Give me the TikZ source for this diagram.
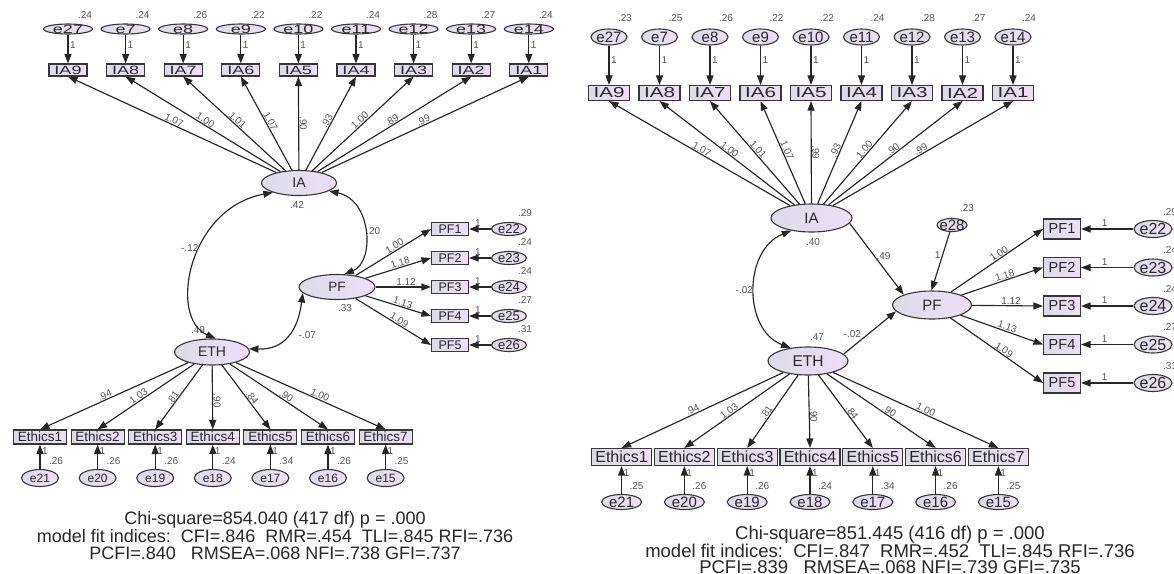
\documentclass[tikz,border=0pt]{standalone}
\usepackage{fontspec}
\setmainfont{Liberation Sans}
\newfontfamily\stretchA[FakeStretch=1.5]{Liberation Sans}
\newfontfamily\stretchB[FakeStretch=1.42]{Liberation Sans}
\usetikzlibrary{shapes.geometric,arrows.meta}
\definecolor{fillL}{RGB}{220,220,232}
\definecolor{fillR}{RGB}{238,222,246}
\definecolor{edgec}{RGB}{55,55,55}
\definecolor{lblc}{RGB}{85,85,85}
\definecolor{txtc}{RGB}{40,40,40}
\newcommand{\fs}[1]{\fontsize{#1}{#1}\selectfont}
\begin{document}
\begin{tikzpicture}[x=1pt,y=-1pt,
  base/.style={draw=edgec, line width=1.1pt, left color=fillL, right color=fillR, text=txtc},
  oval/.style={base, ellipse, inner sep=-12pt},
  box/.style={base, rectangle, inner sep=0pt},
  lbl/.style={text=lblc, inner sep=0.5pt, font=\fs{10}},
  arr/.style={draw=black!85, line width=1.15pt, -{Triangle[length=9.5pt,width=7pt]}},
  dbl/.style={draw=black!85, line width=1.15pt, {Triangle[length=9.5pt,width=7pt]}-{Triangle[length=9.5pt,width=7pt]}},
  fit/.style={text=txtc, align=center, inner sep=0pt}
]
\fill[white] (0,0) rectangle (1174,573);
\useasboundingbox (0,0) rectangle (1174,573);

%%%%%%%%%%%%%%%% LEFT MODEL %%%%%%%%%%%%%%%%
\node[oval, minimum width=75pt, minimum height=25pt, font=\fs{14}] (aIA) at (299,183) {IA};
\node[oval, minimum width=76pt, minimum height=25pt, font=\fs{13.5}] (aPF) at (337,287) {PF};
\node[oval, minimum width=75pt, minimum height=26pt, font=\fs{14}] (aETH) at (212,352) {ETH};
\node[lbl] (aIA-v) at (297,205) {.42};
\node[lbl] (aPF-v) at (345,308) {.33};
\node[lbl] (aETH-v) at (198,330) {.49};

\foreach \e/\b/\v/\l [count=\i from 0] in {e27/IA9/.24/1.07, e7/IA8/.24/1.00, e8/IA7/.26/1.01, e9/IA6/.22/1.07, e10/IA5/.22/.90, e11/IA4/.24/.93, e12/IA3/.28/1.00, e13/IA2/.27/.89, e14/IA1/.24/.99}{
  \pgfmathsetmacro{\xx}{68+57.6*\i}
  \node[oval, minimum width=49pt, minimum height=10pt, font=\stretchA\fs{12}] (a\e) at (\xx,29) {\e};
  \node[lbl] (a\e-v) at (\xx+17,15) {\v};
  \node[box, minimum width=38pt, minimum height=12pt, font=\stretchA\fs{12}] (a\b) at (\xx,70) {\b};
  \draw[arr] (a\e) -- (a\b) node[lbl, pos=0.35, right=1pt] (a\e-1) {1};
  \draw[arr] (aIA) -- (a\b.south) node[lbl, sloped, pos=0.5, above] (aIA-\b) {\l};
}

\foreach \b/\e/\v/\l [count=\i from 0] in {PF1/e22/.29/1.00, PF2/e23/.24/1.18, PF3/e24/.24/1.12, PF4/e25/.27/1.13, PF5/e26/.31/1.09}{
  \pgfmathsetmacro{\yy}{229+29*\i}
  \node[box, minimum width=37pt, minimum height=13pt, font=\fs{12.5}] (a\b) at (450,\yy) {\b};
  \node[oval, minimum width=35pt, minimum height=13pt, font=\fs{13}] (a\e) at (509,\yy) {\e};
  \node[lbl] (a\e-v) at (525,\yy-16) {\v};
  \draw[arr] (a\e) -- (a\b) node[lbl, pos=0.6, above=1pt] (a\e-1) {1};
  \draw[arr] (aPF) -- (a\b.west) node[lbl, sloped, pos=0.55, above] (aPF-\b) {\l};
}

\foreach \b/\e/\v/\l [count=\i from 0] in {Ethics1/e21/.26/.94, Ethics2/e20/.26/1.03, Ethics3/e19/.26/.81, Ethics4/e18/.24/.90, Ethics5/e17/.34/.84, Ethics6/e16/.26/.90, Ethics7/e15/.25/1.00}{
  \pgfmathsetmacro{\xx}{40+57.6*\i}
  \node[box, minimum width=53pt, minimum height=14pt, font=\fs{13.5}] (a\b) at (\xx,437) {\b};
  \node[oval, minimum width=37pt, minimum height=17pt, font=\fs{12}] (a\e) at (\xx,478) {\e};
  \node[lbl] (a\e-v) at (\xx+16,461) {\v};
  \draw[arr] (a\e) -- (a\b) node[lbl, pos=0.75, right=1pt] (a\e-1) {1};
  \draw[arr] (aETH) -- (a\b.north) node[lbl, sloped, pos=0.55, above] (aETH-\b) {\l};
}

\draw[dbl] (aIA.200) .. controls (188,208) and (168,318) .. (aETH.75) node[lbl, pos=0.42, left=1pt] (acov1) {-.12};
\draw[dbl] (aIA.-15) .. controls (372,200) and (375,262) .. (aPF.60) node[lbl, pos=0.5, right=1pt] (acov2) {.20};
\draw[dbl] (aPF.190) .. controls (298,330) and (285,350) .. (aETH.5) node[lbl, pos=0.5, right=10pt] (acov3) {-.07};

\node[fit, font=\fontsize{18}{17.5}\selectfont] (afit) at (275,536) {Chi-square=854.040 (417 df) p = .000\\model fit indices:\ \ CFI=.846\ \ RMR=.454\ \ TLI=.845 RFI=.736\\PCFI=.840\ \ \ RMSEA=.068 NFI=.738 GFI=.737};

%%%%%%%%%%%%%%%% RIGHT MODEL %%%%%%%%%%%%%%%%
\node[oval, minimum width=81pt, minimum height=28pt, font=\fs{15}] (bIA) at (811.5,218) {IA};
\node[oval, minimum width=79pt, minimum height=28pt, font=\fs{15}] (bPF) at (932,305) {PF};
\node[oval, minimum width=80pt, minimum height=28pt, font=\fs{15.5}] (bETH) at (808,361) {ETH};
\node[lbl] (bIA-v) at (813,242) {.40};
\node[lbl] (bETH-v) at (817,337) {.47};
\node[oval, minimum width=30pt, minimum height=13pt, font=\fs{15}] (be28) at (952,225) {e28};
\node[lbl] (be28-v) at (967,208) {.23};

\foreach \e/\b/\v/\l [count=\i from 0] in {e27/IA9/.23/1.07, e7/IA8/.25/1.00, e8/IA7/.26/1.01, e9/IA6/.22/1.07, e10/IA5/.22/.99, e11/IA4/.24/.93, e12/IA3/.28/1.00, e13/IA2/.27/.90, e14/IA1/.24/.99}{
  \pgfmathsetmacro{\xx}{609+50.5*\i}
  \node[oval, minimum width=36pt, minimum height=16pt, font=\fs{15}] (b\e) at (\xx,37) {\e};
  \node[lbl] (b\e-v) at (\xx+16,18) {\v};
  \node[box, minimum width=41pt, minimum height=15pt, font=\stretchB\fs{14.5}] (b\b) at (\xx,93) {\b};
  \draw[arr] (b\e) -- (b\b) node[lbl, pos=0.37, right=1pt] (b\e-1) {1};
  \draw[arr] (bIA) -- (b\b.south) node[lbl, sloped, pos=0.5, above] (bIA-\b) {\l};
}

\foreach \b/\e/\v/\l [count=\i from 0] in {PF1/e22/.29/1.00, PF2/e23/.24/1.18, PF3/e24/.24/1.12, PF4/e25/.27/1.13, PF5/e26/.31/1.09}{
  \pgfmathsetmacro{\yy}{229+38.5*\i}
  \node[box, minimum width=37pt, minimum height=20pt, font=\fs{14.5}] (b\b) at (1062,\yy) {\b};
  \node[oval, minimum width=38pt, minimum height=17pt, font=\fs{16}] (b\e) at (1153,\yy) {\e};
  \node[lbl] (b\e-v) at (1170,\yy-17) {\v};
  \draw[arr] (b\e) -- (b\b) node[lbl, pos=0.55, above=1pt] (b\e-1) {1};
  \draw[arr] (bPF) -- (b\b.west) node[lbl, sloped, pos=0.55, above] (bPF-\b) {\l};
}

\foreach \b/\e/\v/\l [count=\i from 0] in {Ethics1/e21/.25/.94, Ethics2/e20/.26/1.03, Ethics3/e19/.26/.81, Ethics4/e18/.24/.90, Ethics5/e17/.34/.84, Ethics6/e16/.26/.90, Ethics7/e15/.25/1.00}{
  \pgfmathsetmacro{\xx}{621.6+62.8*\i}
  \node[box, minimum width=60pt, minimum height=17pt, font=\fs{16}] (b\b) at (\xx,457) {\b};
  \node[oval, minimum width=40pt, minimum height=15pt, font=\fs{15}] (b\e) at (\xx,502) {\e};
  \node[lbl] (b\e-v) at (\xx+15,486) {\v};
  \draw[arr] (b\e) -- (b\b) node[lbl, pos=0.74, right=1pt] (b\e-1) {1};
  \draw[arr] (bETH) -- (b\b.north) node[lbl, sloped, pos=0.55, above] (bETH-\b) {\l};
}

\draw[dbl] (bIA.212) .. controls (743,250) and (743,330) .. (bETH.143) node[lbl, pos=0.5, left=1pt] (bcov) {-.02};
\draw[arr] (bIA.-8) -- (bPF.160) node[lbl, pos=0.46, right=1pt] (bIAPF) {.49};
\draw[arr] (bETH.11) -- (bPF.190) node[lbl, pos=0.35, above left=0pt] (bETHPF) {-.02};
\draw[arr] (be28) -- (bPF.92) node[lbl, pos=0.4, left=1pt] (be28-1) {1};

\node[fit, font=\fontsize{18.5}{16.5}\selectfont] (bfit) at (890,550) {Chi-square=851.445 (416 df) p = .000\\model fit indices:\ \ CFI=.847\ \ RMR=.452\ \ TLI=.845 RFI=.736\\PCFI=.839\ \ \ RMSEA=.068 NFI=.739 GFI=.735};
\end{tikzpicture}
\end{document}
